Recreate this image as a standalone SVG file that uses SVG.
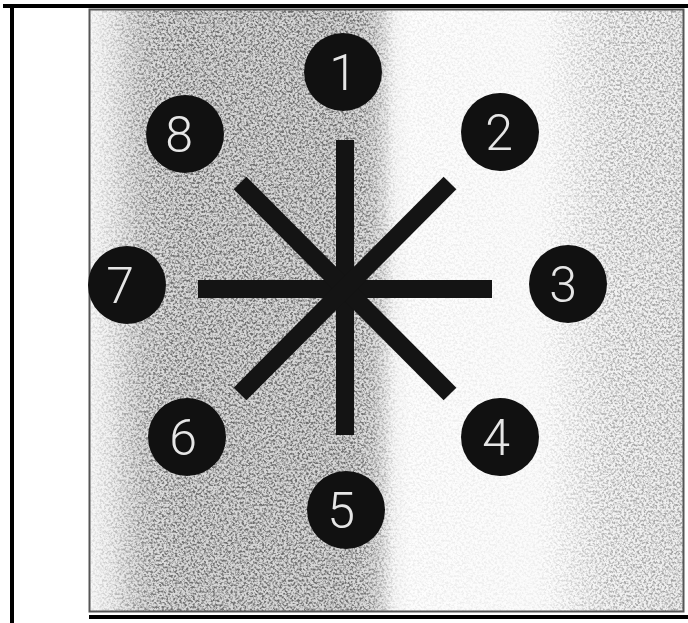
<svg xmlns="http://www.w3.org/2000/svg" width="688" height="623" viewBox="0 0 688 623">
  <defs>
    <linearGradient id="bg" x1="89" y1="0" x2="684" y2="0" gradientUnits="userSpaceOnUse">
      <stop offset="0" stop-color="#f8f8f8"/>
      <stop offset="0.04" stop-color="#ececec"/>
      <stop offset="0.09" stop-color="#cacaca"/>
      <stop offset="0.16" stop-color="#bababa"/>
      <stop offset="0.44" stop-color="#b8b8b8"/>
      <stop offset="0.48" stop-color="#cdcdcd"/>
      <stop offset="0.51" stop-color="#f6f6f6"/>
      <stop offset="0.54" stop-color="#fdfdfd"/>
      <stop offset="0.78" stop-color="#fbfbfb"/>
      <stop offset="0.88" stop-color="#eeeeee"/>
      <stop offset="1" stop-color="#e6e6e6"/>
    </linearGradient>
    <linearGradient id="dens" x1="89" y1="0" x2="684" y2="0" gradientUnits="userSpaceOnUse">
      <stop offset="0" stop-color="#222"/>
      <stop offset="0.06" stop-color="#777"/>
      <stop offset="0.12" stop-color="#cfcfcf"/>
      <stop offset="0.46" stop-color="#cfcfcf"/>
      <stop offset="0.52" stop-color="#222"/>
      <stop offset="0.75" stop-color="#1a1a1a"/>
      <stop offset="0.88" stop-color="#888"/>
      <stop offset="1" stop-color="#999"/>
    </linearGradient>
    <mask id="densMask" maskUnits="userSpaceOnUse" x="89" y="9" width="595" height="603">
      <rect x="89" y="9" width="595" height="603" fill="url(#dens)"/>
    </mask>
    <filter id="grain" x="0" y="0" width="100%" height="100%" color-interpolation-filters="sRGB">
      <feTurbulence type="fractalNoise" baseFrequency="0.45" numOctaves="2" seed="7"/>
      <feColorMatrix type="matrix" values="3.2 0 0 0 -0.9  3.2 0 0 0 -0.9  3.2 0 0 0 -0.9  0 0 0 0 1"/>
    </filter>
    <style>
      .node circle { fill: #111; }
      .node text { font-family: "Roboto", "Liberation Sans", sans-serif; font-weight: 300; font-size: 50px; fill: #e6e6e6; text-anchor: middle; }
      .bar { stroke: #141414; stroke-width: 18; stroke-linecap: butt; }
    </style>
  </defs>

  <rect width="688" height="623" fill="#ffffff"/>

  <g id="panel">
    <rect x="89" y="9" width="595" height="603" fill="url(#bg)"/>
    <rect x="89" y="9" width="595" height="603" filter="url(#grain)" mask="url(#densMask)" opacity="0.5"/>
    <rect x="89.5" y="9.5" width="594" height="602" fill="none" stroke="#555" stroke-width="2"/>
  </g>

  <g id="frame" fill="#000">
    <rect x="3" y="4" width="685" height="4"/>
    <rect x="10" y="4" width="4" height="619"/>
    <rect x="89" y="615" width="599" height="4"/>
  </g>

  <g id="connectors">
    <line class="bar" x1="345" y1="140" x2="345" y2="435"/>
    <line class="bar" x1="198" y1="289" x2="492" y2="289"/>
    <line class="bar" x1="240" y1="183" x2="450" y2="394"/>
    <line class="bar" x1="450" y1="183" x2="240" y2="394"/>
  </g>

  <g id="node1" class="node"><circle cx="343" cy="72" r="39"/><text x="343" y="90">1</text></g>
  <g id="node2" class="node"><circle cx="500" cy="132" r="39"/><text x="499" y="150">2</text></g>
  <g id="node3" class="node"><circle cx="568" cy="284" r="39"/><text x="563" y="302">3</text></g>
  <g id="node4" class="node"><circle cx="500" cy="437" r="39"/><text x="496" y="455">4</text></g>
  <g id="node5" class="node"><circle cx="346" cy="510" r="39"/><text x="341" y="528">5</text></g>
  <g id="node6" class="node"><circle cx="187" cy="437" r="39"/><text x="183" y="455">6</text></g>
  <g id="node7" class="node"><circle cx="127" cy="285" r="39"/><text x="120" y="303">7</text></g>
  <g id="node8" class="node"><circle cx="185" cy="134" r="39"/><text x="179" y="152">8</text></g>
</svg>
